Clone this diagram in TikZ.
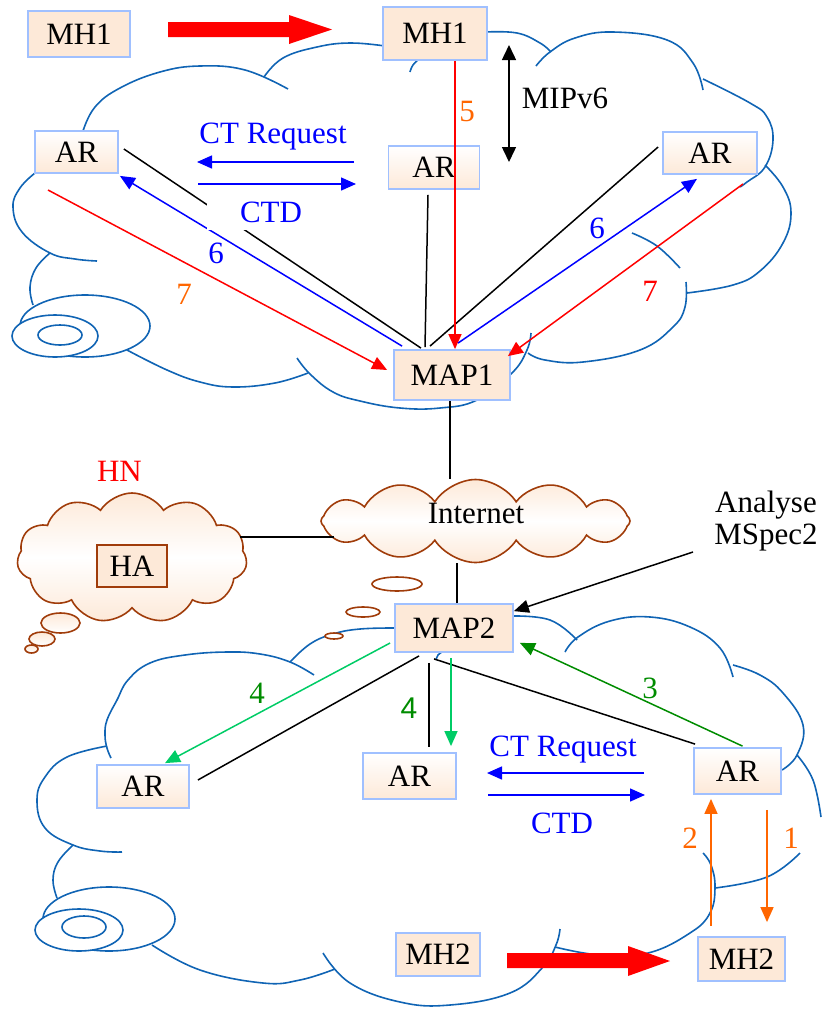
\documentclass[tikz,border=0pt]{standalone}
\usepackage{fontspec}
\setmainfont{Liberation Serif}
\setsansfont{Liberation Sans}
\usetikzlibrary{arrows.meta,shapes.symbols,calc}
\definecolor{peach}{RGB}{253,233,216}
\definecolor{boxblue}{RGB}{160,192,255}
\definecolor{cloudblue}{RGB}{16,100,180}
\definecolor{brownc}{RGB}{160,60,10}
\definecolor{orangec}{RGB}{255,102,0}
\definecolor{darkgreen}{RGB}{0,140,0}
\definecolor{lightgreen}{RGB}{0,204,102}
\tikzset{
  box/.style={draw=boxblue, line width=1.8pt, fill=peach, inner sep=0pt},
  gbox/.style={box, top color=white, bottom color=peach},
  habox/.style={draw=brownc, line width=1.8pt, fill=peach, inner sep=0pt},
  cl/.style={draw=cloudblue, line width=1.6pt},
  bcl/.style={draw=brownc, line width=1.6pt},
  conn/.style={line width=1.5pt},
  tipx/.style={-{Triangle[length=15pt,width=13pt]}},
  lbl/.style={inner sep=0pt},
  smoothp/.style={smooth, tension=0.7}
}
\begin{document}
\begin{tikzpicture}[x=1pt,y=-1pt,font=\fontsize{31}{34}\selectfont]
\useasboundingbox (0,0) rectangle (825,1013);

% ---------------- top cloud ----------------
\draw[cl] plot[smoothp] coordinates {(83,131) (95,107) (120,88) (160,72) (200,66) (245,70) (288,89)};
\draw[cl] plot[smoothp] coordinates {(264,77) (283,58) (317,47) (350,43) (385,46)};
\draw[cl] plot[smoothp] coordinates {(410,72) (413,65) (420,58)};
\draw[cl] plot[smoothp] coordinates {(485,32) (517,33) (540,43) (551,52)};
\draw[cl] plot[smoothp] coordinates {(536,66) (550,52) (575,38) (613,32) (667,40) (693,63) (703,90)};
\draw[cl] plot[smoothp] coordinates {(703,79) (750,103) (767,117) (773,140) (765,167) (747,182) (740,187)};
\draw[cl] plot[smoothp] coordinates {(765,165) (783,187) (791,213) (783,243) (760,271) (733,285) (687,293)};
\draw[cl] plot[smoothp] coordinates {(632,233) (657,246) (680,268)};
\draw[cl] plot[smoothp] coordinates {(686,282) (685,307) (673,327) (640,350) (583,362) (545,360) (528,353)};
\draw[cl] plot[smoothp] coordinates {(531,333) (527,350) (512,373) (477,400) (440,408) (400,408) (360,401) (333,392) (310,374) (297,358)};
\draw[cl] plot[smoothp] coordinates {(127,350) (167,370) (200,382) (233,387) (275,383) (308,373)};
\draw[cl] plot[smoothp] coordinates {(35,173) (20,188) (13,207) (22,232) (50,253) (75,259) (97,261)};
\draw[cl] plot[smoothp] coordinates {(50,253) (36,268) (30,287) (33,305)};
\draw[cl] (85,326) ellipse [x radius=65pt, y radius=31pt];
\draw[cl, fill=white] (55,336) ellipse [x radius=43pt, y radius=21pt];
\draw[cl] (60,335) ellipse [x radius=22pt, y radius=10pt];

% ---------------- bottom cloud ----------------
\draw[cl] plot[smoothp] coordinates {(290,662) (310,644) (333,634) (360,629) (397,628)};
\draw[cl] plot[smoothp] coordinates {(314,675) (290,662) (260,654) (227,652) (185,655) (150,663) (128,680) (117,700) (107,720) (105,735) (107,748) (111,758)};
\draw[cl] plot[smoothp] coordinates {(107,746) (67,757) (45,777) (37,800) (45,828) (73,845) (100,851) (122,852)};
\draw[cl] plot[smoothp] coordinates {(73,845) (58,862) (53,880) (57,898)};
\draw[cl] (109,919) ellipse [x radius=66pt, y radius=32pt];
\draw[cl, fill=white] (79,930) ellipse [x radius=44pt, y radius=21pt];
\draw[cl] (84,927) ellipse [x radius=22pt, y radius=11pt];
\draw[cl] plot[smoothp] coordinates {(152,945) (200,970) (263,983) (300,980) (335,969)};
\draw[cl] plot[smoothp] coordinates {(323,953) (350,983) (400,1002) (450,1005) (510,993) (543,967) (556,945) (560,929)};
\draw[cl] plot[smoothp] coordinates {(555,947) (600,955) (648,953) (690,933) (710,913) (715,887) (711,865) (703,853)};
\draw[cl] plot[smoothp] coordinates {(715,888) (767,877) (800,853)};
\draw[cl] plot[smoothp] coordinates {(797,755) (813,780) (821,817)};
\draw[cl] plot[smoothp] coordinates {(733,665) (760,675) (783,693) (803,725) (797,755) (782,770)};
\draw[cl] plot[smoothp] coordinates {(565,652) (578,637) (610,621) (650,617) (690,627) (720,648) (733,677)};
\draw[cl] plot[smoothp] coordinates {(511,616) (550,620) (577,640)};
\draw[cl] plot[smoothp] coordinates {(436,660) (438,655) (442,652)};

% ---------------- HN and Internet clouds ----------------
\node[cloud, cloud puffs=11, cloud puff arc=115, cloud ignores aspect,
      minimum width=230pt, minimum height=130pt, inner sep=0pt, bcl,
      top color=peach, bottom color=peach, middle color=white] (hn) at (132,558) {};
\draw[bcl, top color=peach, bottom color=white] (60.5,623) ellipse [x radius=19.5pt, y radius=10pt];
\draw[bcl, top color=peach, bottom color=white] (42,639) ellipse [x radius=13pt, y radius=7pt];
\draw[bcl, top color=peach, bottom color=white] (31.5,649) ellipse [x radius=6.5pt, y radius=4pt];
\node[cloud, cloud puffs=12, cloud puff arc=115, cloud ignores aspect,
      minimum width=309pt, minimum height=83pt, inner sep=0pt, bcl,
      top color=peach, bottom color=peach, middle color=white] (inet) at (475.5,521) {};
\node[lbl] (inettext) at (476,513) {Internet};
\draw[bcl, fill=white] (397,584) ellipse [x radius=25pt, y radius=7pt];
\draw[bcl, fill=white] (363,612) ellipse [x radius=17pt, y radius=5pt];
\draw[bcl, fill=white] (334,636) ellipse [x radius=9pt, y radius=3pt];
\node[lbl, text=red] (hnl) at (119.5,471) {HN};
\node[habox, minimum width=70pt, minimum height=42pt] (ha) at (132,566) {HA};

% ---------------- boxes ----------------
\node[box, minimum width=102pt, minimum height=46pt] (mh1a) at (79,34) {MH1};
\node[box, minimum width=104pt, minimum height=53pt] (mh1b) at (435,33.5) {MH1};
\node[gbox, minimum width=83pt, minimum height=42pt] (artl) at (76.5,152) {AR};
\node[gbox, minimum width=91pt, minimum height=43pt] (artc) at (434,167.5) {AR};
\node[gbox, minimum width=94pt, minimum height=42pt] (artr) at (710,153) {AR};
\node[box, minimum width=116pt, minimum height=50pt] (map1) at (452,375) {MAP1};
\node[box, minimum width=118pt, minimum height=48pt] (map2) at (454,628) {MAP2};
\node[gbox, minimum width=92pt, minimum height=43pt] (arbl) at (143,786.5) {AR};
\node[gbox, minimum width=93pt, minimum height=46pt] (arbc) at (409.5,776) {AR};
\node[gbox, minimum width=87pt, minimum height=46pt] (arbr) at (737.5,771) {AR};
\node[box, minimum width=84pt, minimum height=43pt] (mh2a) at (438,954.5) {MH2};
\node[box, minimum width=87pt, minimum height=44pt] (mh2b) at (741.5,959) {MH2};

% ---------------- big red movement arrows ----------------
\fill[red] (168,22) -- (289,22) -- (289,15) -- (332,29.5) -- (289,44) -- (289,37) -- (168,37) -- cycle;
\fill[red] (507,953) -- (628,953) -- (628,946) -- (670,961) -- (628,976) -- (628,968) -- (507,968) -- cycle;

% ---------------- top connectors ----------------
\coordinate (mipA) at (509,45);
\coordinate (mipB) at (509,162);
\draw[conn, {Triangle[length=15pt,width=14pt]}-{Triangle[length=15pt,width=14pt]}] (mipA) -- (mipB);
\node[lbl] (mip) at (565,98) {MIPv6};

\draw[conn, black] ([shift={(-31,-1)}]map1.north) -- ([shift={(5,-3)}]artl.east);
\draw[conn, black] ([shift={(-27,-2)}]map1.north) -- ([shift={(-6,5)}]artc.south);
\draw[conn, black] ([shift={(-22,-3)}]map1.north) -- ([shift={(-4,-6)}]artr.west);

\draw[conn, red, tipx] ([shift={(20,0)}]mh1b.south) -- ([shift={(3,0)}]map1.north);
\node[lbl, text=orangec] (l5) at (467,111) {5};

\draw[conn, blue, tipx] ([shift={(9,-3)}]map1.north west) -- ([shift={(1,2)}]artl.south east);
\draw[conn, blue, tipx] ([shift={(6,-6)}]map1.north) -- ([shift={(-13,4)}]artr.south);
\node[lbl, text=blue] (l6a) at (216,253) {6};
\node[lbl, text=blue] (l6b) at (597,228) {6};

\coordinate (r7a) at (48,190);
\coordinate (r7b) at (743,184);
\draw[conn, red, tipx] (r7a) -- ([shift={(-6,-5)}]map1.west);
\draw[conn, red, tipx] (r7b) -- ([shift={(-3,7)}]map1.north east);
\node[lbl, text=orangec] (l7a) at (184,294) {7};
\node[lbl, text=red] (l7b) at (650,291) {7};

\coordinate (ctA1) at (354,162);
\coordinate (ctA2) at (197,162);
\coordinate (ctB1) at (198,184);
\coordinate (ctB2) at (356,184);
\draw[conn, blue, tipx] (ctA1) -- (ctA2);
\draw[conn, blue, tipx] (ctB1) -- (ctB2);
\node[lbl, text=blue] (ctr1) at (273,137) {CT Request};
\node[lbl, text=blue, fill=white, minimum width=128pt, minimum height=35pt] (ctd1) at (271,212.5) {CTD};

% ---------------- middle connectors ----------------
\draw[conn] ([xshift=-2pt]map1.south) -- ([xshift=-2pt]map1.south |- inet.north);
\draw[conn] ([shift={(108,-21)}]hn.center) -- ([shift={(-142,16)}]inet.center);
\draw[conn] ([xshift=3pt]map2.north) -- ([xshift=3pt]map2.north |- inet.south);

\node[lbl, align=center, font=\fontsize{31}{32}\selectfont] (ana) at (766,521) {Analyse\\MSpec2};
\coordinate (anaS) at (693,552);
\draw[conn, tipx] (anaS) -- ([shift={(0,8)}]map2.north east);

% ---------------- bottom connectors ----------------
\draw[conn, darkgreen, tipx] ([shift={(5,-1)}]arbr.north) -- ([shift={(6,-10)}]map2.south east);
\node[lbl, text=darkgreen] (l3) at (650,688) {3};

\draw[conn] ([shift={(25,3)}]map2.south west) -- ([shift={(8,-6.5)}]arbl.east);
\draw[conn] ([shift={(-25,10)}]map2.south) -- ([shift={(19.5,-5)}]arbc.north);
\draw[conn] ([shift={(-20,6)}]map2.south) -- ([shift={(2,-3)}]arbr.north west);

\draw[conn, lightgreen, tipx] ([shift={(-4,15)}]map2.west) -- ([shift={(22,-1)}]arbl.north);
\draw[conn, lightgreen, tipx] ([shift={(-3,5)}]map2.south) -- ([shift={(41.5,-6)}]arbc.north);
\node[lbl, text=darkgreen] (l4a) at (257,693) {4};
\node[lbl, text=darkgreen, font=\fontsize{30}{34}\sffamily] (l4b) at (409,708) {4};

\coordinate (ctC1) at (644,773);
\coordinate (ctC2) at (487,773);
\coordinate (ctD1) at (488,795);
\coordinate (ctD2) at (645,795);
\draw[conn, blue, tipx] (ctC1) -- (ctC2);
\draw[conn, blue, tipx] (ctD1) -- (ctD2);
\node[lbl, text=blue] (ctr2) at (563,750) {CT Request};
\node[lbl, text=blue] (ctd2) at (562,823) {CTD};

\draw[conn, orangec, tipx] ([shift={(-30.5,-10)}]mh2b.north) -- ([shift={(-26.5,4)}]arbr.south);
\draw[conn, orangec, tipx] ([shift={(29.5,15)}]arbr.south) -- ([shift={(25.5,-14)}]mh2b.north);
\node[lbl, text=orangec] (l2) at (690,838) {2};
\node[lbl, text=orangec] (l1) at (791,838) {1};
\end{tikzpicture}
\end{document}
